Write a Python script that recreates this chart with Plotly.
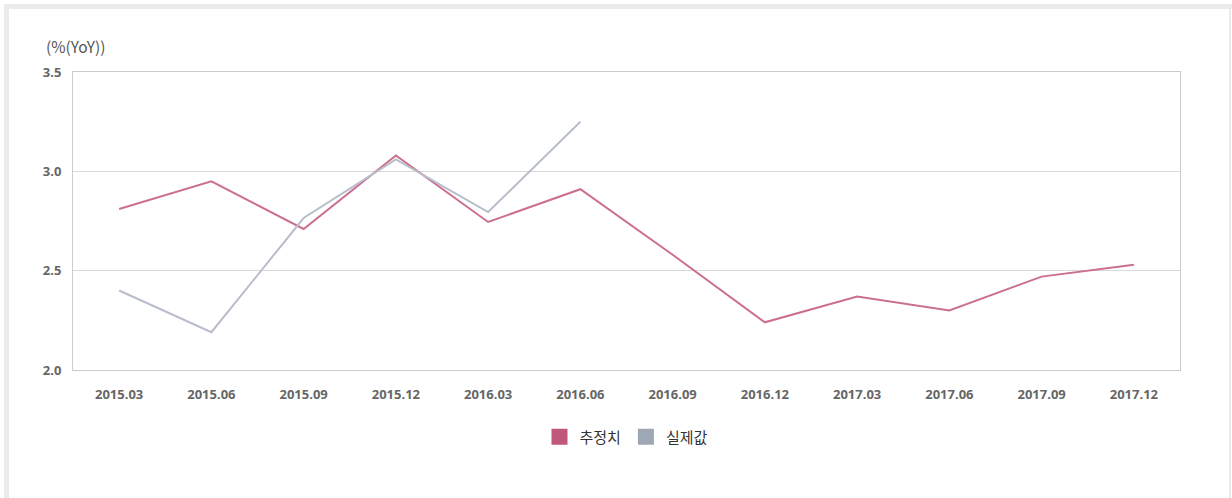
import plotly.graph_objects as go

quarters = ["2015.03", "2015.06", "2015.09", "2015.12", "2016.03", "2016.06",
            "2016.09", "2016.12", "2017.03", "2017.06", "2017.09", "2017.12"]
estimate = [2.81, 2.95, 2.71, 3.08, 2.745, 2.91, 2.58, 2.24, 2.37, 2.30, 2.47, 2.53]
actual = [2.40, 2.19, 2.765, 3.06, 2.795, 3.25, None, None, None, None, None, None]
y_ticks = [2.0, 2.5, 3.0, 3.5]
y_tick_labels = ["2.0", "2.5", "3.0", "3.5"]

W, H = 1232, 498
L, R, T, B = 73, 52, 72, 128
pw, ph = W - L - R, H - T - B

def px(x):
    return (x - L) / pw

def py(y):
    return (H - B - y) / ph

font_family = "Noto Sans CJK KR, Noto Sans, sans-serif"
tick_font = dict(size=13, color="#666", family="Noto Sans, sans-serif", weight="bold")

fig = go.Figure()
fig.add_trace(go.Scatter(x=quarters, y=estimate, mode="lines", name="추정치",
                         line=dict(color="#cc6f8e", width=2), showlegend=False))
fig.add_trace(go.Scatter(x=quarters, y=actual, mode="lines", name="실제값",
                         line=dict(color="#b7bdca", width=2), showlegend=False,
                         connectgaps=False))
# legend entries (square swatches)
fig.add_trace(go.Scatter(x=[quarters[0]], y=[None], mode="markers", name="추정치",
                         marker=dict(symbol="square", size=16, color="#c0587a")))
fig.add_trace(go.Scatter(x=[quarters[0]], y=[None], mode="markers", name="실제값",
                         marker=dict(symbol="square", size=16, color="#9ea8b5")))

shapes = [
    dict(type="line", xref="paper", yref="paper", x0=px(4), x1=px(W), y0=py(6.5), y1=py(6.5),
         line=dict(color="#ebebeb", width=5), layer="below"),
    dict(type="line", xref="paper", yref="paper", x0=px(6.5), x1=px(6.5), y0=py(4), y1=py(H),
         line=dict(color="#ebebeb", width=5), layer="below"),
    dict(type="line", xref="paper", yref="paper", x0=px(1230), x1=px(1230), y0=py(4), y1=py(H),
         line=dict(color="#ebebeb", width=2), layer="below"),
]

fig.update_layout(
    width=W, height=H,
    margin=dict(l=L, r=R, t=T, b=B),
    paper_bgcolor="white", plot_bgcolor="white",
    font=dict(family=font_family, color="#555"),
    shapes=shapes,
    showlegend=True,
    legend=dict(orientation="h", x=0.5, xanchor="center", y=py(437), yanchor="middle",
                font=dict(size=15, color="#333"), itemsizing="trace",
                traceorder="normal", itemclick=False),
    annotations=[dict(text="(%(YoY))", xref="paper", yref="paper", x=px(44), y=py(46),
                      xanchor="left", yanchor="middle", showarrow=False,
                      font=dict(size=15.5, color="#555"))],
    xaxis=dict(type="category", categoryorder="array", categoryarray=quarters,
               range=[-0.5, 11.5], showgrid=False, showline=True, linecolor="#cccccc",
               linewidth=1, mirror=True, ticks="", zeroline=False,
               tickfont=tick_font, ticklabelstandoff=12),
    yaxis=dict(range=[2.0, 3.5], tickvals=y_ticks, ticktext=y_tick_labels,
               showgrid=True, gridcolor="#d9d9d9", gridwidth=1, showline=True,
               linecolor="#cccccc", linewidth=1, mirror=True, ticks="", zeroline=False,
               tickfont=tick_font, ticklabelstandoff=8),
)

fig.write_html("out.html", config={"displayModeBar": False},
               post_script="document.body.style.margin='0';")
